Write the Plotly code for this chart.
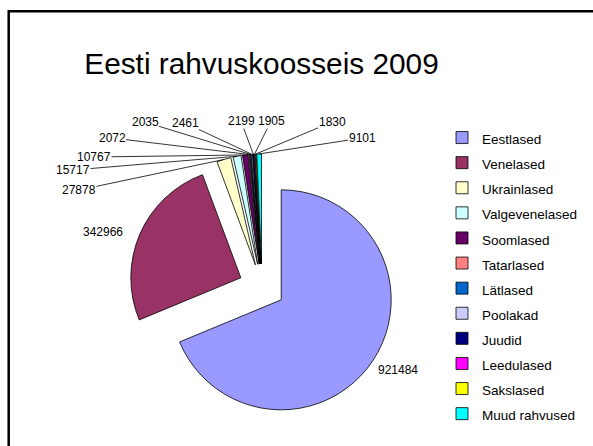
import math
import plotly.graph_objects as go

names = ["Eestlased", "Venelased", "Ukrainlased", "Valgevenelased", "Soomlased",
         "Tatarlased", "Lätlased", "Poolakad", "Juudid", "Leedulased",
         "Sakslased", "Muud rahvused"]
values = [921484, 342966, 27878, 15717, 10767, 2072, 2035, 2461, 2199, 1905, 1830, 9101]
colors = ["#9999FF", "#993366", "#FFFFCC", "#CCFFFF", "#660066", "#FF8080",
          "#0066CC", "#CCCCFF", "#000080", "#FF00FF", "#FFFF00", "#00FFFF"]
title_text = "Eesti rahvuskoosseis 2009"

# layout constants (pixels)
W, H = 593, 446
cx, cy, r, pull = 262, 287, 110, 0.21
half = r * (1 + pull)
# data-label centres, in pixels (layout only)
label_pos = [(398, 370), (103, 232), (79, 190), (73, 170), (94, 157), (112, 138),
             (145, 122), (185, 123), (241, 121), (271, 121), (332, 122), (362, 138)]

legend_labels = ['<span style="font-size:13.5px">%s</span>' % n for n in names]

fig = go.Figure(go.Pie(
    labels=legend_labels,
    values=values,
    sort=False,
    direction="clockwise",
    rotation=0,
    pull=pull,
    marker=dict(colors=colors, line=dict(color="black", width=0.8)),
    textinfo="none",
    hoverinfo="label+value",
    domain=dict(x=[(cx - half) / W, (cx + half) / W],
                y=[1 - (cy + half) / H, 1 - (cy - half) / H]),
))

# data labels with leader lines, anchored on each slice's outer arc
total = float(sum(values))
label_font = dict(size=12, family="Liberation Sans, Arial", color="black")
annotations = []
cum = 0.0
for v, (lx, ly) in zip(values, label_pos):
    mid = (cum + v / 2) / total * 2 * math.pi
    cum += v
    ax_px = cx + (r + pull * r) * math.sin(mid)
    ay_px = cy - (r + pull * r) * math.cos(mid)
    if v / total < 0.05:
        annotations.append(dict(
            x=ax_px / W, y=1 - ay_px / H, xref="paper", yref="paper",
            text="%d" % v, showarrow=True,
            ax=lx - ax_px, ay=ly - ay_px, axref="pixel", ayref="pixel",
            arrowhead=0, arrowwidth=0.8, arrowcolor="black", standoff=0,
            xanchor="center", yanchor="middle", font=label_font, borderpad=0))
    else:
        annotations.append(dict(
            x=lx / W, y=1 - ly / H, xref="paper", yref="paper",
            text="%d" % v, showarrow=False,
            xanchor="center", yanchor="middle", font=label_font))

fig.update_layout(
    width=W, height=H,
    margin=dict(l=0, r=0, t=0, b=0, autoexpand=False),
    paper_bgcolor="white",
    font=dict(family="Liberation Sans, Arial", color="black"),
    title=dict(text=title_text, x=261.5 / W, xanchor="center",
               y=1 - 74 / H, yanchor="bottom", yref="container",
               font=dict(size=29.8, family="Liberation Sans, Arial", color="black")),
    legend=dict(x=442 / W, xanchor="left", y=1 - 120 / H, yanchor="top",
                font=dict(size=17, family="Liberation Sans, Arial", color="black"),
                bgcolor="rgba(0,0,0,0)"),
    annotations=annotations,
    shapes=[dict(type="rect", xref="paper", yref="paper",
                 x0=8.7 / W, y0=-0.1, x1=1.1, y1=1 - 11.3 / H,
                 line=dict(color="black", width=2.5), fillcolor="rgba(0,0,0,0)")],
)

fig.write_html("out.html",
               config={"displayModeBar": False},
               post_script="document.body.style.margin='0px';"
                           "document.body.style.overflow='hidden';")
